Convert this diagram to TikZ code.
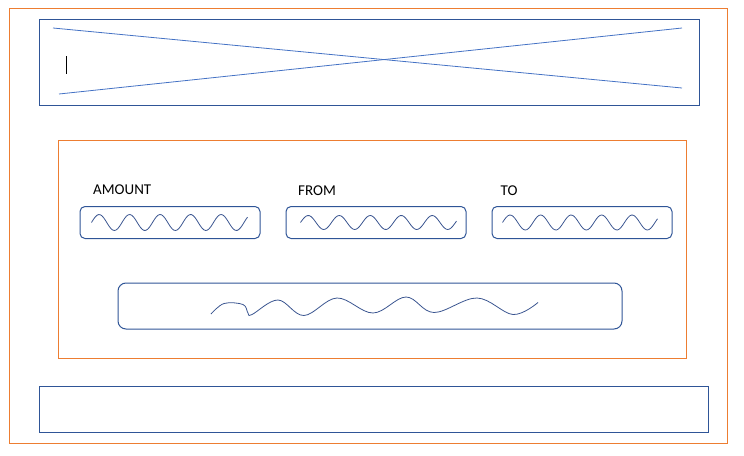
\documentclass[tikz,border=0pt]{standalone}
\usepackage{fontspec}
\setmainfont{Carlito}
\usetikzlibrary{positioning}
\definecolor{frameorange}{HTML}{ED7D31}
\definecolor{boxblue}{HTML}{2F5597}
\definecolor{crossblue}{HTML}{4472C4}
\definecolor{waveblue}{HTML}{3A5590}
\tikzstyle{frame} = [rectangle, draw=frameorange, line width=0.9pt, inner sep=0pt]
\tikzstyle{panel} = [rectangle, draw=boxblue, line width=1pt, inner sep=0pt]
\tikzstyle{field} = [rectangle, draw=boxblue, line width=1pt, rounded corners=5pt, minimum width=180pt, minimum height=32pt, inner sep=0pt, node distance=25pt]
\tikzstyle{fieldname} = [inner sep=0pt, anchor=base west, font=\fontsize{15}{18}\selectfont]
\tikzstyle{wave} = [draw=waveblue, line width=0.8pt, smooth]
\tikzstyle{cross} = [draw=crossblue, line width=0.8pt]

\begin{document}
\begin{tikzpicture}[x=1pt, y=-1pt]
	\useasboundingbox (0,0) rectangle (744,455);
	%% outer frame
	\node[frame, minimum width=718pt, minimum height=435pt] (Page) at (368,225.5) {};
	%% image placeholder
	\node[panel, minimum width=660pt, minimum height=86pt] (Img) at (369,62) {};
	\coordinate (ImgA) at (53,28);
	\coordinate (ImgB) at (682,88);
	\coordinate (ImgC) at (59,94);
	\coordinate (ImgD) at (682,28);
	\coordinate (CurTop) at (66,56);
	\coordinate (CurBot) at (66,74);
	%% converter form
	\node[frame, minimum width=628pt, minimum height=218pt] (Form) at (372,249) {};
	%% amount field
	\node[field] (Amt) at (170,222.5) {};
	\node[fieldname] (AmtName) at (93,194) {AMOUNT};
	%% from field
	\node[field, right=of Amt] (From) {};
	\node[fieldname] (FromName) at (298,195.5) {FROM};
	%% to field
	\node[field, right=of From] (To) {};
	\node[fieldname] (ToName) at (500.5,195) {TO};
	%% result field
	\node[field, rounded corners=8pt, minimum width=504pt, minimum height=46pt] (Result) at (370,306) {};
	%% footer
	\node[panel, minimum width=669pt, minimum height=46pt] (Foot) at (373.5,409) {};
	%% cross and cursor
	\path[cross] (ImgA) -- (ImgB);
	\path[cross] (ImgC) -- (ImgD);
	\draw[black, line width=0.8pt] (CurTop) -- (CurBot);
	%% scribbles
	\begin{scope}[shift={(Amt.west)}]
		\draw[wave] plot[domain=0:156, samples=90] (\x+12, {-8*sin((\x/30.5)*360)});
	\end{scope}
	\begin{scope}[shift={(From.west)}]
		\draw[wave] plot[domain=0:156, samples=90] (\x+15, {-7*sin((\x/31)*360)});
	\end{scope}
	\begin{scope}[shift={(To.west)}]
		\draw[wave] plot[domain=0:155, samples=90] (\x+11, {-7.5*sin((\x/30.5)*360)});
	\end{scope}
	\draw[wave, tension=0.6] plot coordinates {(211,314) (224,303.5) (243,304.5) (248,313) (252,314.5) (278,300) (304,315.5) (337,298) (373,313) (406,297) (434,312.5) (477,298) (513,314.5) (538,302.5)};
\end{tikzpicture}
\end{document}
